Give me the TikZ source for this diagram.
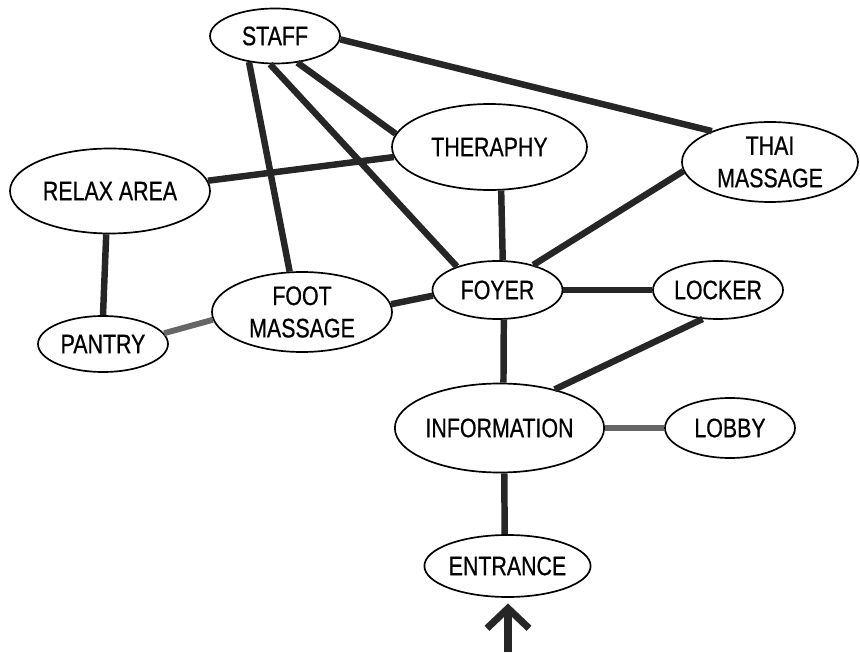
\documentclass[tikz,border=0pt]{standalone}
\usepackage{fontspec}
\newfontfamily\roomfont{Liberation Sans}[FakeStretch=0.8,FakeBold=0.6]
\usetikzlibrary{shapes.geometric,arrows.meta}

\begin{document}
\begin{tikzpicture}[line join=round,x=1cm,y=1cm,
        room/.style={ellipse,draw=black,line width=1.2pt,fill=white,inner sep=0pt,align=center,
            font=\roomfont\fontsize{19}{23}\selectfont},
        link/.style={line width=4.6pt,color=black!85},
        dimlink/.style={line width=4.2pt,color=black!60},
        entry/.style={line width=5pt,color=black!85,-{Straight Barb[length=0.5cm,width=1.05cm]}}]
                \useasboundingbox (0,0) rectangle (21.5,16.3);
                % rooms
                \node [room,minimum width=3.25cm,minimum height=1.375cm] (staff) at (6.875,15.4) {STAFF};
                \node [room,minimum width=4.875cm,minimum height=2.15cm] (therapy) at (12.2375,12.625) {THERAPHY};
                \node [room,minimum width=4.4cm,minimum height=2cm] (thai) at (19.25,12.25) {THAI\\MASSAGE};
                \node [room,minimum width=5cm,minimum height=2.125cm] (relax) at (2.75,11.525) {RELAX AREA};
                \node [room,minimum width=4.5cm,minimum height=2cm] (foot) at (7.55,8.5) {FOOT\\MASSAGE};
                \node [room,minimum width=3.25cm,minimum height=1.4cm] (pantry) at (2.575,7.7) {PANTRY};
                \node [room,minimum width=3.25cm,minimum height=1.45cm] (foyer) at (12.4375,9.05) {FOYER};
                \node [room,minimum width=3.25cm,minimum height=1.45cm] (locker) at (17.95,9.05) {LOCKER};
                \node [room,minimum width=4.875cm,minimum height=2.225cm] (info) at (12.4875,5.6) {INFORMATION};
                \node [room,minimum width=3.25cm,minimum height=1.5cm] (lobby) at (18.25,5.6) {LOBBY};
                \node [room,minimum width=3.475cm,minimum height=1.55cm] (entrance) at (12.6875,2.15) {ENTRANCE};
                \coordinate (door) at (12.7,0);
                % links
                \draw [link] (staff.-3)-- (thai.152);
                \draw [link] (staff.-50)-- (therapy.172);
                \draw [link] (staff.-100)-- (foyer.150);
                \draw [link] (staff.-135)-- (foot.107);
                \draw [link] (relax.6)-- (therapy.186);
                \draw [link] (relax.-95)-- (pantry.north);
                \draw [dimlink] (pantry.10)-- (foot.185);
                \draw [link] (foot.5)-- (foyer.185);
                \draw [link] (therapy.-75)-- (foyer.80);
                \draw [link] (thai.186)-- (foyer.35);
                \draw [link] (foyer.east)-- (locker.west);
                \draw [link] (foyer.-78)-- (info.85);
                \draw [link] (locker.-118)-- (info.35);
                \draw [dimlink] (info.east)-- (lobby.west);
                \draw [link] (info.-84)-- (entrance.95);
                \draw [entry] (door)-- ([yshift=-4pt]entrance.south -| door);
\end{tikzpicture}
\end{document}
